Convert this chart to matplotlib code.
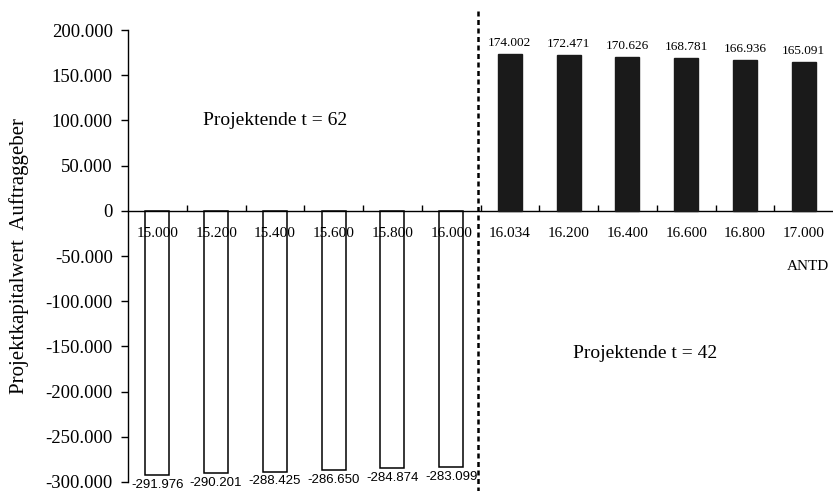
import matplotlib
matplotlib.use("Agg")
import matplotlib.pyplot as plt
from matplotlib.ticker import FuncFormatter, FixedLocator

categories = ["15.000", "15.200", "15.400", "15.600", "15.800", "16.000",
              "16.034", "16.200", "16.400", "16.600", "16.800", "17.000"]
values = [-291976, -290201, -288425, -286650, -284874, -283099,
          174002, 172471, 170626, 168781, 166936, 165091]
yticks = [200000, 150000, 100000, 50000, 0, -50000, -100000, -150000,
          -200000, -250000, -300000]

plt.rcParams['font.family'] = ['Liberation Serif', 'DejaVu Serif']

def de(v):
    s = f"{abs(v):,}".replace(",", ".")
    return ("-" if v < 0 else "") + s

fig = plt.figure(figsize=(8.33, 4.91), dpi=100)
ax = fig.add_axes([128/833, 9/491, 705/833, 452/491])

x = list(range(len(categories)))
for xi, v in zip(x, values):
    if v < 0:
        ax.bar(xi, v, width=0.41, facecolor='none', edgecolor='black',
               linewidth=1.1, zorder=3)
        ax.text(xi, v - 11000, de(v), ha='center', va='center',
                fontsize=9.5, family='Liberation Sans', clip_on=False)
    else:
        ax.bar(xi, v, width=0.41, facecolor='#1a1a1a', edgecolor='#1a1a1a',
               linewidth=1.0, zorder=3)
        ax.text(xi, v + 12000, de(v), ha='center', va='center',
                fontsize=9.5, clip_on=False)

ax.set_xlim(-0.5, len(categories) - 0.5)
ax.set_ylim(-300000, 200000)

ax.spines['top'].set_visible(False)
ax.spines['right'].set_visible(False)
ax.spines['bottom'].set_position(('data', 0))
ax.spines['bottom'].set_linewidth(1.0)
ax.spines['left'].set_linewidth(1.0)

ax.set_yticks(yticks)
ax.yaxis.set_major_formatter(FuncFormatter(lambda v, p: de(int(v))))
ax.tick_params(axis='y', direction='out', length=5, width=1, labelsize=13.5, pad=6)

ax.set_xticks(x)
ax.set_xticklabels(categories)
ax.tick_params(axis='x', which='major', length=0, labelsize=11, pad=12)
ax.xaxis.set_minor_locator(FixedLocator([i + 0.5 for i in range(len(categories) - 1)]))
ax.tick_params(axis='x', which='minor', direction='in', length=4, width=1)

ax.set_ylabel("Projektkapitalwert  Auftraggeber", fontsize=15, labelpad=12)

# divider line
ax.plot([5.45, 5.45], [-330000, 222000], color='black', linewidth=1.8,
        linestyle=(0, (2, 1.4)), clip_on=False, zorder=4)

ax.text(2.0, 100000, "Projektende t = 62", ha='center', va='center', fontsize=14)
ax.text(8.3, -158000, "Projektende t = 42", ha='center', va='center', fontsize=14)
ax.text(11.08, -62000, "ANTD", ha='center', va='center', fontsize=11)

fig.savefig("out.png", dpi=100)
